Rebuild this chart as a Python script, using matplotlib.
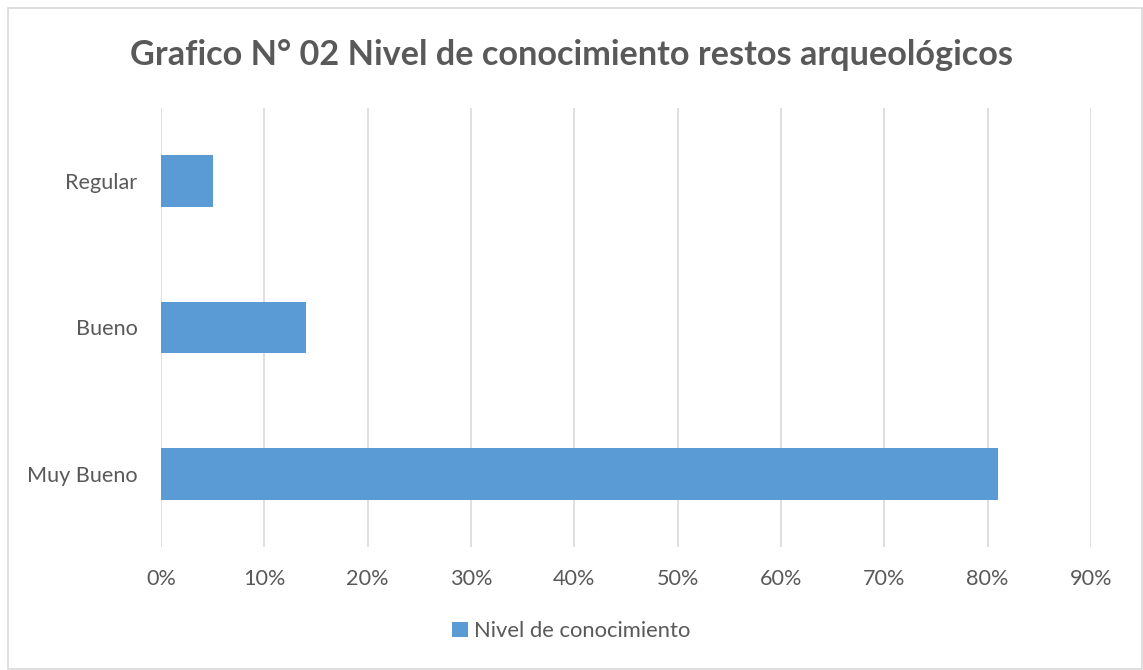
import matplotlib.pyplot as plt
from matplotlib.patches import Rectangle
from matplotlib.ticker import PercentFormatter

categorias = ["Muy Bueno", "Bueno", "Regular"]
valores = [81, 14, 5]  # porcentaje
serie = "Nivel de conocimiento"
titulo = "Grafico N° 02 Nivel de conocimiento restos arqueológicos"

plt.rcParams['font.family'] = ['Lato', 'DejaVu Sans']
gris = "#595959"
azul = "#5B9BD5"

fig = plt.figure(figsize=(11.43, 6.7), dpi=100)
# marco gris alrededor del grafico
fig.patches.append(Rectangle((8/1143, 1/670), 1134/1143, 661/670, transform=fig.transFigure,
                             fill=False, edgecolor="#D9D9D9", lw=1.2))

ax = fig.add_axes([161/1143, 123/670, 930/1143, 439/670])
ax.barh(range(len(categorias)), valores, height=0.355, color=azul, label=serie, zorder=3)
ax.set_xlim(0, 90)
ax.set_ylim(-0.5, 2.5)
ax.set_xticks(range(0, 91, 10))
ax.xaxis.set_major_formatter(PercentFormatter(decimals=0))
ax.set_yticks(range(len(categorias)))
ax.set_yticklabels(categorias)
ax.grid(axis="x", color="#D9D9D9", lw=1.2, zorder=0)
for s in ax.spines.values():
    s.set_visible(False)
ax.tick_params(axis="both", length=0, labelsize=15.6, labelcolor=gris)
ax.tick_params(axis="x", pad=16)
ax.tick_params(axis="y", pad=17)

fig.text(0.5, 1 - 55/670, titulo, ha="center", va="center", fontsize=24.7,
         fontweight="bold", color=gris)

fig.legend(loc="center", bbox_to_anchor=(0.5, 1 - 631/670), frameon=False, fontsize=15.8,
           labelcolor=gris, handlelength=0.7, handleheight=0.7, handletextpad=0.3)

fig.savefig("out.png", dpi=100)
